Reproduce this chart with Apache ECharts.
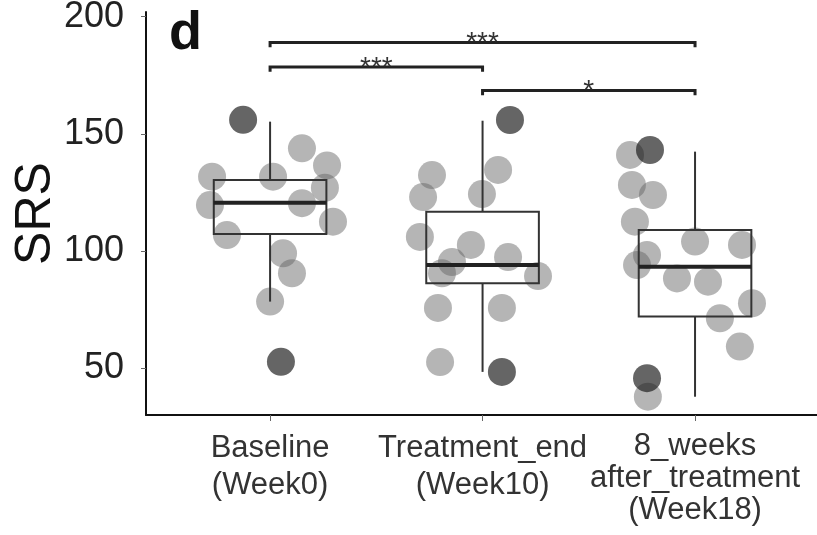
<!DOCTYPE html>
<html><head><meta charset="utf-8">
<script src="https://cdn.jsdelivr.net/npm/echarts@6/dist/echarts.min.js"></script>
<style>html,body{margin:0;padding:0;background:#fff}#c{width:817px;height:535px}</style>
</head><body><div id="c"></div>
<script>
// ---- data ----
const categories = ['Baseline\n(Week0)', 'Treatment_end\n(Week10)', '8_weeks\nafter_treatment\n(Week18)'];
const categoryPos = [1, 2, 3];
const yTicks = [50, 100, 150, 200];
// box stats: [lower whisker, Q1, median, Q3, upper whisker]
const baselineBox = [78.4, 107.3, 120.6, 130.3, 155.2];
const treatmentBox = [48.4, 86.2, 94.0, 116.8, 155.6];
const week18Box = [37.8, 72.0, 93.3, 109.0, 142.4];
// jittered points (x in category units), value, dark flag
const baselineX = [0.873, 1.150, 1.268, 0.727, 1.014, 1.258, 0.717, 1.150, 1.296, 0.797, 1.061, 1.103, 1.000, 1.051];
const baselineY = [156, 143.8, 136.5, 131.7, 131.7, 127, 119.6, 120.4, 112.5, 106.8, 99, 90.5, 78.4, 52.7];
const baselineDark = [1, 0, 0, 0, 0, 0, 0, 0, 0, 0, 0, 0, 0, 1];
const treatmentX = [2.129, 2.073, 1.762, 1.997, 1.720, 1.705, 1.945, 1.856, 1.809, 2.120, 2.261, 1.790, 2.091, 1.800, 2.091];
const treatmentY = [155.9, 134.6, 132.4, 124.3, 123, 106, 102.6, 95.3, 90.5, 97.4, 89.3, 75.7, 75.7, 52.6, 48.4];
const treatmentDark = [1, 0, 0, 0, 0, 0, 0, 0, 0, 0, 0, 0, 0, 0, 1];
const week18X = [2.788, 2.694, 2.703, 2.802, 2.717, 3.000, 3.221, 2.774, 2.727, 2.915, 3.061, 3.268, 3.117, 3.211, 2.774, 2.778];
const week18Y = [143.1, 141, 128.2, 123.9, 112.5, 104, 102.6, 98.3, 94, 88.3, 86.9, 77.7, 71.3, 59.2, 45.7, 37.8];
const week18Dark = [1, 0, 0, 0, 0, 0, 0, 0, 0, 0, 0, 0, 0, 0, 1, 0];
// significance brackets
const bracketFrom = [1, 1, 2];
const bracketTo = [3, 2, 3];
const bracketY = [189, 178.5, 168.5];
const bracketLabel = ['***', '***', '*'];

// ---- build ----
const boxes = [baselineBox, treatmentBox, week18Box];
const groups = [[baselineX, baselineY, baselineDark], [treatmentX, treatmentY, treatmentDark], [week18X, week18Y, week18Dark]];
const light = [], dark = [];
groups.forEach(g => g[0].forEach((x, i) => (g[2][i] ? dark : light).push([x, g[1][i]])));
const boxData = boxes.map((b, i) => [categoryPos[i]].concat(b));
const bracketData = bracketFrom.map((f, i) => [f, bracketTo[i], bracketY[i], i]);
const FONT = '"Liberation Sans", Arial, sans-serif';
const HW = 0.265;

const chart = echarts.init(document.getElementById('c'));
chart.setOption({
  animation: false,
  backgroundColor: '#fff',
  title: { text: 'd', left: 164, top: 2, textStyle: { fontSize: 54, fontWeight: 'bold', color: '#111', fontFamily: FONT } },
  grid: { left: 146, right: 0, top: 12, bottom: 120, containLabel: false, outerBoundsMode: 'none' },
  xAxis: {
    type: 'value', min: 0.416, max: 3.574,
    splitLine: { show: false },
    axisLine: { show: true, onZero: false, lineStyle: { color: '#111', width: 2 } },
    axisTick: { show: true, customValues: categoryPos, length: 6, lineStyle: { color: '#666', width: 1 } },
    axisLabel: {
      customValues: categoryPos, margin: 15, color: '#333', fontFamily: FONT,
      formatter: v => {
        const lines = categories[Math.round(v) - 1].split('\n');
        const st = lines.length > 2 ? 'b' : 'a';
        return lines.map(l => '{' + st + '|' + l + '}').join('\n');
      },
      rich: {
        a: { fontSize: 31, lineHeight: 37, color: '#333', fontFamily: FONT },
        b: { fontSize: 31, lineHeight: 32, color: '#333', fontFamily: FONT }
      }
    }
  },
  yAxis: {
    type: 'value', min: 30, max: 202,
    name: 'SRS', nameLocation: 'middle', nameGap: 85, nameMoveOverlap: false,
    nameTextStyle: { fontSize: 50, color: '#111', fontFamily: FONT },
    splitLine: { show: false },
    axisLine: { show: true, lineStyle: { color: '#111', width: 2 } },
    axisTick: { show: true, customValues: yTicks, length: 5, lineStyle: { color: '#666', width: 1 } },
    axisLabel: { customValues: yTicks, margin: 22, fontSize: 36, color: '#222', fontFamily: FONT, padding: [5, 0, 0, 0] }
  },
  series: [
    { type: 'scatter', data: light, symbolSize: 28, z: 2, itemStyle: { color: 'rgba(100,100,100,0.6)' } },
    { type: 'scatter', data: dark, symbolSize: 28, z: 2, itemStyle: { color: 'rgba(30,30,30,0.85)' } },
    {
      type: 'custom', z: 3, data: boxData,
      renderItem: (params, api) => {
        const c = api.value(0);
        const lo = api.value(1), q1 = api.value(2), md = api.value(3), q3 = api.value(4), hi = api.value(5);
        const tl = api.coord([c - HW, q3]), br = api.coord([c + HW, q1]);
        const m1 = api.coord([c - HW, md]), m2 = api.coord([c + HW, md]);
        const wTop = api.coord([c, hi]), wLow = api.coord([c, lo]);
        const st = { stroke: '#333', lineWidth: 2, fill: null };
        return { type: 'group', children: [
          { type: 'line', shape: { x1: wTop[0], y1: wTop[1], x2: wTop[0], y2: tl[1] }, style: st },
          { type: 'line', shape: { x1: wLow[0], y1: br[1], x2: wLow[0], y2: wLow[1] }, style: st },
          { type: 'rect', shape: { x: tl[0], y: tl[1], width: br[0] - tl[0], height: br[1] - tl[1] }, style: { stroke: '#333', lineWidth: 2, fill: 'rgba(0,0,0,0)' } },
          { type: 'line', shape: { x1: m1[0], y1: m1[1], x2: m2[0], y2: m2[1] }, style: { stroke: '#222', lineWidth: 4 } }
        ] };
      }
    },
    {
      type: 'custom', z: 4, data: bracketData,
      renderItem: (params, api) => {
        const a = api.value(0), b = api.value(1), y = api.value(2), idx = api.value(3);
        const p1 = api.coord([a, y - 2]), p2 = api.coord([a, y]), p3 = api.coord([b, y]), p4 = api.coord([b, y - 2]);
        const mid = api.coord([(a + b) / 2, y]);
        return { type: 'group', children: [
          { type: 'polyline', shape: { points: [p1, p2, p3, p4] }, style: { stroke: '#222', lineWidth: 3, fill: null } },
          { type: 'text', x: mid[0], y: mid[1] + 1, style: { text: bracketLabel[idx], fontSize: 28, fontFamily: FONT, fill: '#333', align: 'center', verticalAlign: 'middle' } }
        ] };
      }
    }
  ]
});
</script></body></html>
